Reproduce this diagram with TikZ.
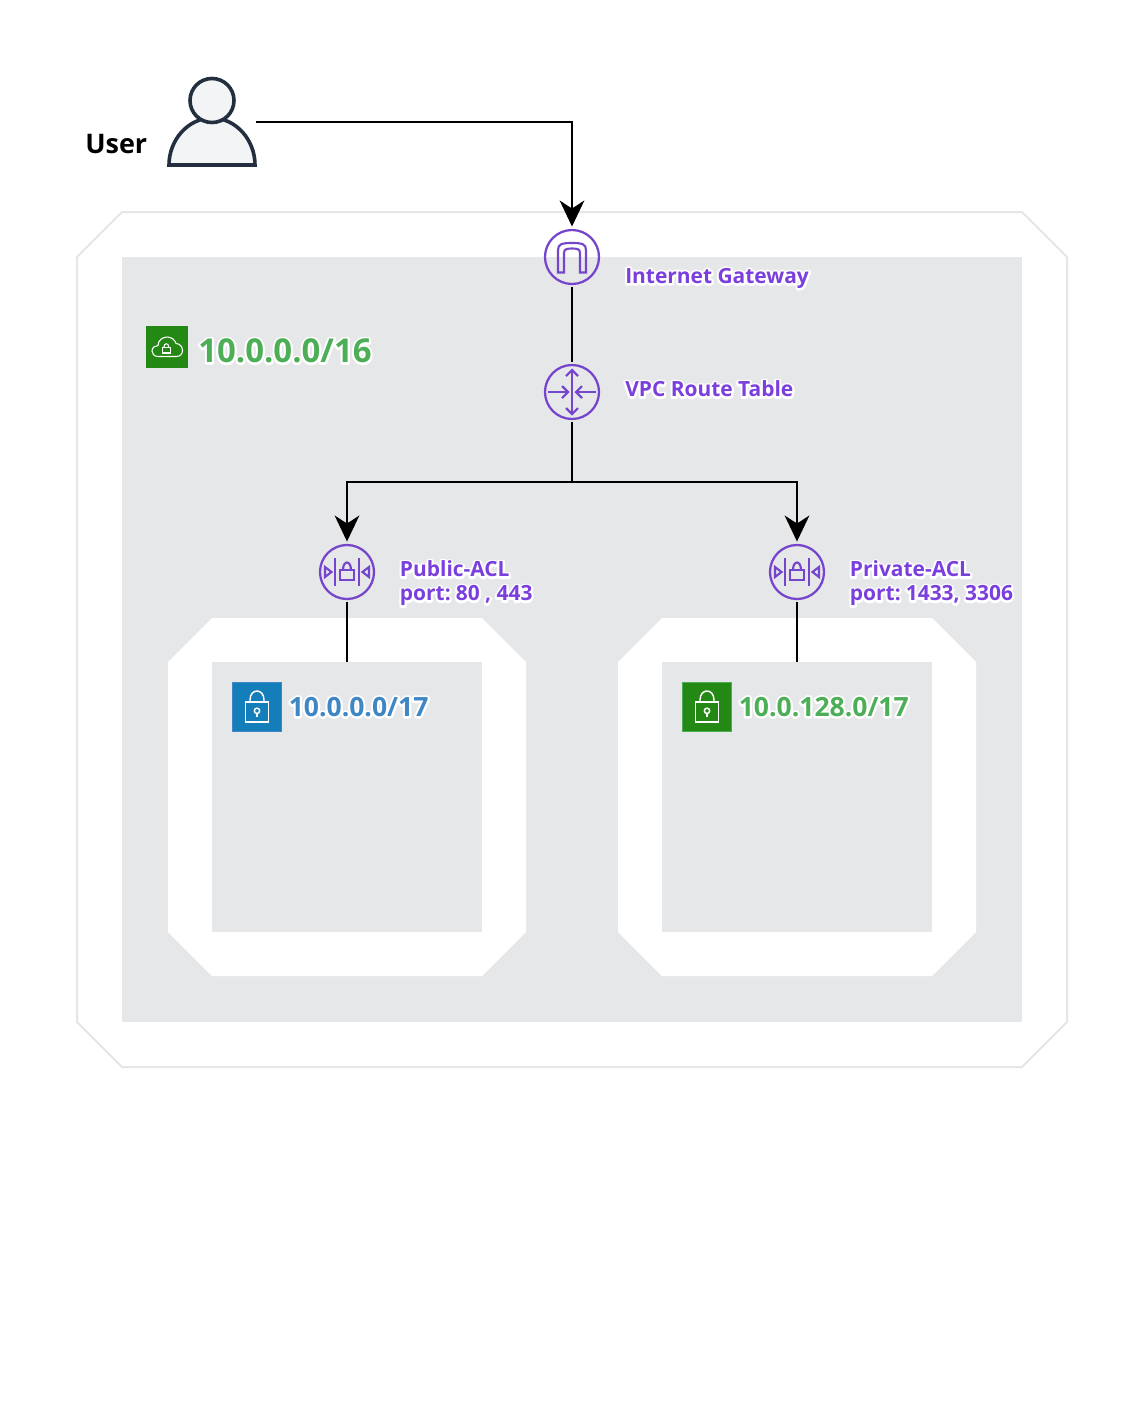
\documentclass[tikz,border=0pt]{standalone}
\usepackage{fontspec}
\setmainfont{Open Sans}
\usetikzlibrary{arrows.meta}
\definecolor{groupgray}{HTML}{E6E7E9}
\definecolor{edgegray}{HTML}{E6E6E6}
\definecolor{purp}{HTML}{7A3FDC}
\definecolor{ringpurp}{HTML}{7546CC}
\definecolor{bluetxt}{HTML}{3F86C4}
\definecolor{greentxt}{HTML}{4CAF57}
\definecolor{iconblue}{HTML}{147EBA}
\definecolor{icongreen}{HTML}{248814}
\definecolor{usernavy}{HTML}{232F3E}
\definecolor{userfill}{HTML}{F2F4F6}
\newcommand{\halo}[1]{\rlap{\special{pdf:code 1 Tr 3.2 w 1 j 1 1 1 RG}#1\special{pdf:code 0 Tr}}#1}
\tikzset{
  x=0.75pt,y=-0.75pt,
  conn/.style={draw=black,line width=1.5pt*0.75*1.3},
  arr/.style={conn,-{Stealth[length=19.5pt,width=18.5pt,inset=6pt]}},
  ring/.style={circle,draw=ringpurp,line width=1.7pt,fill=none,minimum size=40.5pt,inner sep=0pt,outer sep=2.6pt},
  glyph/.style={draw=ringpurp,line width=1.6pt,fill=none,line join=miter},
  lbl/.style={anchor=west,inner sep=0pt,font=\fontsize{15.7pt}{18pt}\selectfont\bfseries,text=purp,align=left},
  bigl/.style={anchor=west,inner sep=0pt,font=\fontsize{19.9pt}{24pt}\selectfont\bfseries},
  square/.style={draw=none,inner sep=0pt,minimum size=#1*0.75pt},
  whiteline/.style={draw=white,line width=1.1pt,fill=none},
}
\begin{document}
\begin{tikzpicture}
\useasboundingbox (0,0) rectangle (1144,1414);
\fill[white] (0,0) rectangle (1144,1414);
% VPC group
\draw[edgegray,line width=1.5pt,fill=white] (122,212) -- (1022,212) -- (1067,257) -- (1067,1022) -- (1022,1067) -- (122,1067) -- (77,1022) -- (77,257) -- cycle;
\fill[groupgray] (122,257) rectangle (1022,1022);
% Subnet surrounds
\fill[white] (212,618) -- (482,618) -- (526,662) -- (526,932) -- (482,976) -- (212,976) -- (168,932) -- (168,662) -- cycle;
\fill[white] (662,618) -- (932,618) -- (976,662) -- (976,932) -- (932,976) -- (662,976) -- (618,932) -- (618,662) -- cycle;
\node[fill=groupgray,minimum size=202.5pt,inner sep=0pt] (pubnet) at (347,797) {};
\node[fill=groupgray,minimum size=202.5pt,inner sep=0pt] (privnet) at (797,797) {};
% User
\node[minimum size=66pt,inner sep=0pt,outer sep=0pt] (user) at (212,122) {};
\draw[usernavy,line width=2.7pt,fill=userfill,line join=miter] (169,165) .. controls (169,140) and (188,118) .. (212,118) .. controls (236,118) and (255,140) .. (255,165) -- cycle;
\draw[usernavy,line width=2.7pt,fill=userfill] (212,100.5) circle[radius=16.5pt];
\node[anchor=west,inner sep=0pt,font=\fontsize{20.2pt}{24pt}\selectfont\bfseries] (userlbl) at (85,144) {User};
% VPC icon
\node[square=42,fill=icongreen] (vpcicon) at (167,347) {};
\draw[white,line width=0.8pt] (158,356.5) .. controls (154,356.5) and (152,353.5) .. (152,351) .. controls (152,347.5) and (155,345.5) .. (158,345.5) .. controls (158,340) and (163,337) .. (167,337) .. controls (171,337) and (175,339.5) .. (176,343.5) .. controls (180,343.5) and (182.5,347) .. (182.5,350.5) .. controls (182.5,354) and (180,356.5) .. (176.5,356.5) -- cycle;
\draw[white,line width=0.8pt] (162.3,347.5) rectangle (170.3,353);
\draw[white,line width=0.8pt] (163.8,347.5) .. controls (163.8,342.5) and (168.8,342.5) .. (168.8,347.5);
\node[bigl,font=\fontsize{24.7pt}{28pt}\selectfont\bfseries,text=greentxt] (vpclbl) at (198,351) {\halo{10.0.0.0/16}};
% Gateway
\node[ring] (igw) at (572,257) {};
\draw[glyph] (558,272.5) -- (558,250) .. controls (558,244) and (562,243) .. (572,243) .. controls (582,243) and (586,244) .. (586,250) -- (586,272.5) -- (580,272.5) -- (580,253) .. controls (580,249) and (577,248.5) .. (572,248.5) .. controls (567,248.5) and (564,249) .. (564,253) -- (564,272.5) -- cycle;
\node[lbl] (igwlbl) at (625,278.5) {\halo{Internet Gateway}};
% Route table
\node[ring] (rt) at (572,392) {};
\begin{scope}[shift={(572,392)}]
\draw[glyph] (0,-22) -- (0,22);
\draw[glyph] (-6,-16) -- (0,-22) -- (6,-16);
\draw[glyph] (-6,16) -- (0,22) -- (6,16);
\draw[glyph] (-24,0) -- (-4,0);
\draw[glyph] (-10,-6) -- (-4,0) -- (-10,6);
\draw[glyph] (24,0) -- (4,0);
\draw[glyph] (10,-6) -- (4,0) -- (10,6);
\end{scope}
\node[lbl] (rtlbl) at (625,389) {\halo{VPC Route Table}};
% ACL public
\node[ring] (pubacl) at (347,572) {};
\begin{scope}[shift={(347,572)}]
\draw[glyph] (-12,-14) -- (-12,14);
\draw[glyph] (12,-14) -- (12,14);
\draw[glyph] (-22,-5) -- (-15.5,0) -- (-22,5) -- cycle;
\draw[glyph] (22,-5) -- (15.5,0) -- (22,5) -- cycle;
\draw[glyph] (-7,-2) rectangle (7,8);
\draw[glyph] (-4,-2) .. controls (-4,-12) and (4,-12) .. (4,-2);
\end{scope}
\node[lbl] (publbl) at (399.7,583.5) {\halo{Public-ACL}\\\halo{port:\kern-1.6pt{} 80 , 443}};
% ACL private
\node[ring] (privacl) at (797,572) {};
\begin{scope}[shift={(797,572)}]
\draw[glyph] (-12,-14) -- (-12,14);
\draw[glyph] (12,-14) -- (12,14);
\draw[glyph] (-22,-5) -- (-15.5,0) -- (-22,5) -- cycle;
\draw[glyph] (22,-5) -- (15.5,0) -- (22,5) -- cycle;
\draw[glyph] (-7,-2) rectangle (7,8);
\draw[glyph] (-4,-2) .. controls (-4,-12) and (4,-12) .. (4,-2);
\end{scope}
\node[lbl] (privlbl) at (849.7,583.5) {\halo{Private-ACL}\\\halo{port:\kern-1.6pt{} 1433, 3306}};
% Subnet icons
\node[square=49,fill=iconblue,draw=bluetxt,line width=0.6pt] (pubicon) at (257,707) {};
\begin{scope}[shift={(257,707)}]
\draw[whiteline] (-11.5,-5) rectangle (11.5,15);
\draw[whiteline] (-7,-5) -- (-7,-7) .. controls (-7,-19) and (7,-19) .. (7,-7) -- (7,-5);
\draw[whiteline] (0,3.8) circle[radius=2pt];
\draw[whiteline] (0,6.5) -- (0,10);
\end{scope}
\node[bigl,text=bluetxt] (publ) at (288.5,707) {\halo{10.0.0.0/17}};
\node[square=49,fill=icongreen,draw=greentxt,line width=0.6pt] (privicon) at (707,707) {};
\begin{scope}[shift={(707,707)}]
\draw[whiteline] (-11.5,-5) rectangle (11.5,15);
\draw[whiteline] (-7,-5) -- (-7,-7) .. controls (-7,-19) and (7,-19) .. (7,-7) -- (7,-5);
\draw[whiteline] (0,3.8) circle[radius=2pt];
\draw[whiteline] (0,6.5) -- (0,10);
\end{scope}
\node[bigl,text=greentxt] (privl) at (738.5,707) {\halo{10.0.128.0/17}};
% Connectors
\coordinate (junction) at (572,482);
\draw[arr] (user.east) -| (igw.north);
\draw[conn] (igw.south) -- (rt.north);
\draw[conn] (rt.south) -- (junction);
\draw[arr] (junction) -| (pubacl.north);
\draw[arr] (junction) -| (privacl.north);
\draw[conn] (pubacl.south) -- (pubnet.north);
\draw[conn] (privacl.south) -- (privnet.north);
\end{tikzpicture}
\end{document}
